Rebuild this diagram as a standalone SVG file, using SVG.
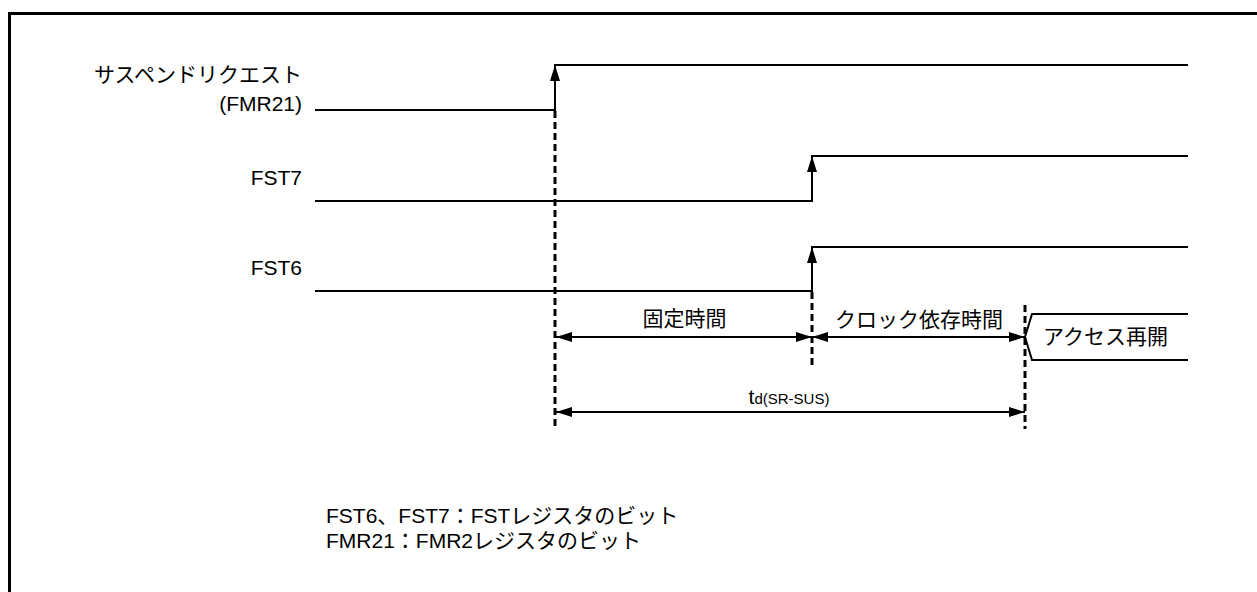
<svg xmlns="http://www.w3.org/2000/svg" width="1257" height="592" viewBox="0 0 1257 592">
<style>
  text { font-family: "Liberation Sans", "Noto Sans CJK JP", sans-serif; font-size: 21px; fill: #000; }
  .sig { fill: none; stroke: #000; stroke-width: 2; }
  .dash { fill: none; stroke: #000; stroke-width: 3; stroke-dasharray: 7 4; }
  .dim { fill: none; stroke: #000; stroke-width: 2; }
  .frame { fill: none; stroke: #000; stroke-width: 3; }
</style>
<defs>
  <marker id="ah" viewBox="0 0 16 10" refX="16" refY="5" markerWidth="16" markerHeight="10" markerUnits="userSpaceOnUse" orient="auto-start-reverse">
    <path d="M0,0 L16,5 L0,10 Z" fill="#000"/>
  </marker>
</defs>
<rect width="1257" height="592" fill="#fff"/>
<g id="frame">
  <polyline class="frame" points="9.5,592 9.5,13.5 1257,13.5"/>
</g>
<g id="labels">
  <text x="302" y="82" text-anchor="end">サスペンドリクエスト</text>
  <text x="302" y="111" text-anchor="end">(FMR21)</text>
  <text x="302" y="185" text-anchor="end">FST7</text>
  <text x="302" y="275" text-anchor="end">FST6</text>
</g>
<g id="signal-fmr21">
  <polyline class="sig" points="315,110 555,110 555,65 1188,65"/>
</g>
<g id="signal-fst7">
  <polyline class="sig" points="315,201 812,201 812,156 1188,156"/>
</g>
<g id="signal-fst6">
  <polyline class="sig" points="315,291 812,291 812,247 1188,247"/>
</g>
<g id="access">
  <polyline class="sig" points="1188,314 1032,314 1025,337 1032,360 1188,360"/>
  <text x="1043" y="344">アクセス再開</text>
</g>
<g id="connectors">
  <line class="sig" x1="555" y1="110" x2="555" y2="65" marker-end="url(#ah)"/>
  <line class="sig" x1="812" y1="201" x2="812" y2="156" marker-end="url(#ah)"/>
  <line class="sig" x1="812" y1="291" x2="812" y2="247" marker-end="url(#ah)"/>
  <line class="dash" x1="555" y1="111" x2="555" y2="429"/>
  <line class="dash" x1="812" y1="292" x2="812" y2="368"/>
  <line class="dash" x1="1025" y1="305" x2="1025" y2="429"/>
  <line class="dim" x1="556" y1="337" x2="812" y2="337" marker-start="url(#ah)" marker-end="url(#ah)"/>
  <line class="dim" x1="812" y1="337" x2="1025" y2="337" marker-start="url(#ah)" marker-end="url(#ah)"/>
  <line class="dim" x1="556" y1="412" x2="1025" y2="412" marker-start="url(#ah)" marker-end="url(#ah)"/>
</g>
<g id="dim-labels">
  <text x="684.5" y="326" text-anchor="middle">固定時間</text>
  <text x="919" y="327" text-anchor="middle">クロック依存時間</text>
  <text x="789" y="404" text-anchor="middle">t<tspan font-size="15px">d(SR-SUS)</tspan></text>
</g>
<g id="notes">
  <text x="326" y="523">FST6、FST7：FSTレジスタのビット</text>
  <text x="326" y="548">FMR21：FMR2レジスタのビット</text>
</g>
</svg>
